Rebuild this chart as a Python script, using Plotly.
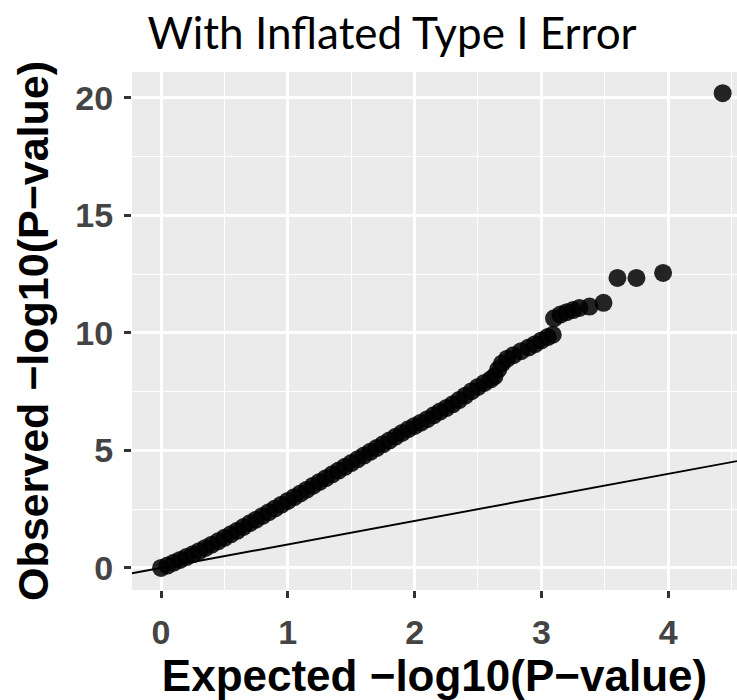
import plotly.graph_objects as go

# Q-Q plot of observed vs expected -log10(P) values
expected = [
    0.00, 0.05, 0.10, 0.15, 0.20, 0.25, 0.30, 0.35, 0.40, 0.45,
    0.50, 0.55, 0.60, 0.65, 0.70, 0.75, 0.80, 0.85, 0.90, 0.95,
    1.00, 1.05, 1.10, 1.15, 1.20, 1.25, 1.30, 1.35, 1.40, 1.45,
    1.50, 1.55, 1.60, 1.65, 1.70, 1.75, 1.80, 1.85, 1.90, 1.95,
    2.00, 2.05, 2.10, 2.15, 2.20, 2.25, 2.30, 2.35, 2.40, 2.45,
    2.50, 2.55, 2.60, 2.63, 2.66, 2.69, 2.73, 2.78, 2.84, 2.90,
    2.95, 3.00, 3.05, 3.09,
    3.10, 3.15, 3.20, 3.25, 3.30, 3.38, 3.49,
    3.60, 3.75, 3.96, 4.43,
]
observed = [
    0.00, 0.10, 0.22, 0.34, 0.46, 0.58, 0.71, 0.85, 0.99, 1.13,
    1.28, 1.43, 1.58, 1.74, 1.90, 2.05, 2.21, 2.37, 2.53, 2.69,
    2.85, 3.01, 3.17, 3.33, 3.50, 3.66, 3.82, 3.98, 4.14, 4.30,
    4.46, 4.62, 4.78, 4.94, 5.10, 5.26, 5.42, 5.58, 5.74, 5.90,
    6.04, 6.18, 6.33, 6.49, 6.65, 6.80, 6.96, 7.14, 7.33, 7.52,
    7.70, 7.87, 8.02, 8.15, 8.45, 8.70, 8.90, 9.05, 9.22, 9.38,
    9.52, 9.68, 9.82, 9.92,
    10.62, 10.78, 10.88, 10.97, 11.06, 11.12, 11.28,
    12.34, 12.34, 12.55, 20.20,
]

x_ticks = [0, 1, 2, 3, 4]
y_ticks = [0, 5, 10, 15, 20]
x_range = [-0.229, 4.543]
y_range = [-0.94, 21.1]

title_text = "With Inflated Type I Error"
x_title = "Expected \u2212log10(P\u2212value)"
y_title = "Observed \u2212log10(P\u2212value)"

fig = go.Figure()

# y = x reference line across the panel
fig.add_trace(go.Scatter(
    x=x_range, y=x_range, mode="lines",
    line=dict(color="black", width=1.9),
    hoverinfo="skip", showlegend=False,
))

fig.add_trace(go.Scatter(
    x=expected, y=observed, mode="markers",
    marker=dict(size=18, color="rgba(0,0,0,0.85)", line=dict(width=0)),
    showlegend=False,
))

tick_font = dict(family="Liberation Sans", size=34, color="#444444", weight="bold")
x_title_font = dict(family="Liberation Sans", size=44, color="black", weight="bold")
y_title_font = dict(family="Liberation Sans", size=43, color="black", weight="bold")

fig.update_layout(
    width=737, height=700,
    margin=dict(l=132, r=0, t=72, b=110, autoexpand=False),
    paper_bgcolor="white",
    plot_bgcolor="#EBEBEB",
    title=dict(
        text=title_text,
        font=dict(family="Lato", size=44, color="black"),
        x=392 / 737, xanchor="center", xref="container",
        y=1 - 34 / 700, yanchor="middle", yref="container",
    ),
    xaxis=dict(
        range=x_range, tickvals=x_ticks, ticktext=[str(v) for v in x_ticks],
        showgrid=True, gridcolor="white", gridwidth=2.8,
        minor=dict(dtick=0.5, tick0=0, showgrid=True, gridcolor="white", gridwidth=1.4),
        zeroline=False, showline=False,
        ticks="outside", ticklen=7, tickwidth=2.5, tickcolor="#333333",
        tickfont=tick_font, ticklabelstandoff=5,
        title=dict(text=x_title, font=x_title_font, standoff=1),
    ),
    yaxis=dict(
        range=y_range, tickvals=y_ticks, ticktext=[str(v) for v in y_ticks],
        showgrid=True, gridcolor="white", gridwidth=2.8,
        minor=dict(dtick=2.5, tick0=0, showgrid=True, gridcolor="white", gridwidth=1.4),
        zeroline=False, showline=False,
        ticks="outside", ticklen=7, tickwidth=2.5, tickcolor="#333333",
        tickfont=tick_font, ticklabelstandoff=4,
        title=dict(text=y_title, font=y_title_font, standoff=13),
    ),
)

fig.write_html("out.html")
